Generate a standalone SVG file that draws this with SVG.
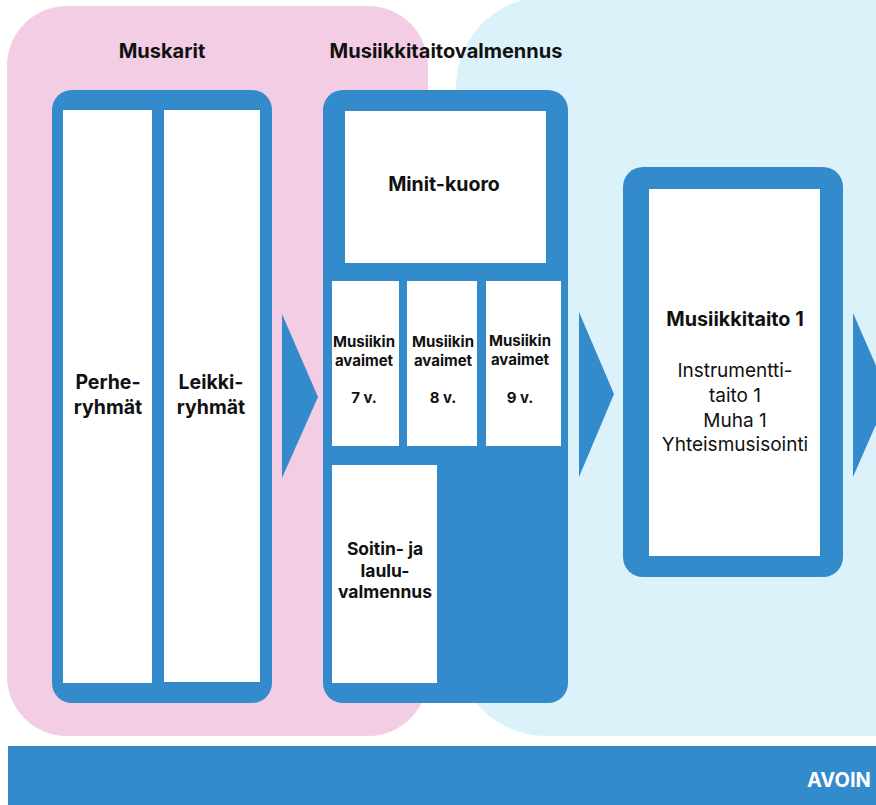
<svg xmlns="http://www.w3.org/2000/svg" width="876" height="805" viewBox="0 0 876 805">
<style>
.blue{fill:#348bcb}
.white{fill:#ffffff}
.t{font-family:Inter,"Liberation Sans",sans-serif;fill:#111111;text-anchor:middle}
.b{font-weight:700}
.r{font-weight:400}
.title{font-size:20px}
.big{font-size:19.5px}
.mt{font-size:19px}
.mtb{font-size:19.8px}
.mid{font-size:17.5px}
.sm{font-size:15px}
</style>
<rect width="876" height="805" fill="#ffffff"/>
<g id="bg">
<rect x="456" y="-3" width="520" height="739" rx="90" fill="#dcf2fb"/>
<rect x="7" y="6" width="421" height="730" rx="60" fill="#f2cde3"/>
</g>
<g id="muskarit">
<text class="t b title" x="162" y="58">Muskarit</text>
<rect class="blue" x="52" y="90" width="220" height="613" rx="20"/>
<g id="perheryhmat">
<rect class="white" x="63" y="110" width="89" height="573"/>
<text class="t b big" x="108" y="389">Perhe-</text>
<text class="t b big" x="108" y="414">ryhmät</text>
</g>
<g id="leikkiryhmat">
<rect class="white" x="164" y="110" width="96" height="572"/>
<text class="t b big" x="211" y="389">Leikki-</text>
<text class="t b big" x="211" y="414">ryhmät</text>
</g>
</g>
<g id="musiikkitaitovalmennus">
<text class="t b title" x="446" y="58">Musiikkitaitovalmennus</text>
<rect class="blue" x="323" y="90" width="245" height="613" rx="20"/>
<g id="minitkuoro">
<rect class="white" x="345" y="111" width="201" height="152"/>
<text class="t b big" x="444" y="191">Minit-kuoro</text>
</g>
<g id="avaimet7">
<rect class="white" x="332" y="281" width="67" height="165"/>
<text class="t b sm" x="364" y="347">Musiikin</text>
<text class="t b sm" x="364" y="366">avaimet</text>
<text class="t b sm" x="364" y="403">7 v.</text>
</g>
<g id="avaimet8">
<rect class="white" x="407" y="281" width="70" height="165"/>
<text class="t b sm" x="443" y="347">Musiikin</text>
<text class="t b sm" x="443" y="366">avaimet</text>
<text class="t b sm" x="443" y="403">8 v.</text>
</g>
<g id="avaimet9">
<rect class="white" x="486" y="281" width="75" height="165"/>
<text class="t b sm" x="520" y="346">Musiikin</text>
<text class="t b sm" x="520" y="365">avaimet</text>
<text class="t b sm" x="520" y="403">9 v.</text>
</g>
<g id="soitinvalmennus">
<rect class="white" x="332" y="465" width="105" height="218"/>
<text class="t b mid" x="385" y="555">Soitin- ja</text>
<text class="t b mid" x="385" y="577">laulu-</text>
<text class="t b mid" x="385" y="598">valmennus</text>
</g>
</g>
<g id="musiikkitaito1">
<rect class="blue" x="623" y="167" width="220" height="410" rx="20"/>
<rect class="white" x="649" y="189" width="171" height="367"/>
<text class="t b mtb" x="735" y="326">Musiikkitaito 1</text>
<text class="t r mt" x="735" y="377">Instrumentti-</text>
<text class="t r mt" x="735" y="402">taito 1</text>
<text class="t r mt" x="735" y="427">Muha 1</text>
<text class="t r mt" x="735" y="451">Yhteismusisointi</text>
</g>
<g id="avoin">
<rect class="blue" x="8" y="746" width="880" height="60"/>
<text x="807" y="787" font-family="Inter,'Liberation Sans',sans-serif" font-weight="700" font-size="20" fill="#ffffff">AVOIN</text>
</g>
<g id="connectors">
<polygon class="blue" points="282,314 318,397 282,478"/>
<polygon class="blue" points="579,312 614,394 579,477"/>
<polygon class="blue" points="853,313 889,395 853,477"/>
</g>
</svg>
